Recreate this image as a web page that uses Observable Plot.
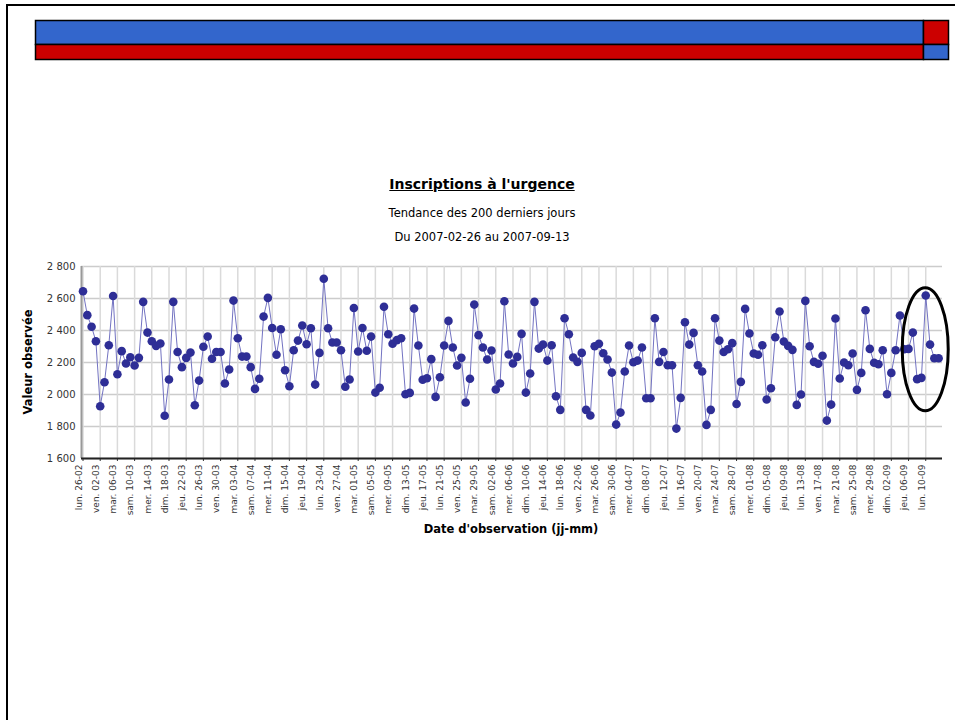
<!DOCTYPE html>
<html><head><meta charset="utf-8">
<script src="https://cdn.jsdelivr.net/npm/d3@7"></script>
<script src="https://cdn.jsdelivr.net/npm/@observablehq/plot@0.6"></script>
<style>
html,body{margin:0;padding:0;background:#fff;}
#page{position:relative;width:955px;height:720px;overflow:hidden;font-family:"DejaVu Sans",sans-serif;color:#000;}
#frame{position:absolute;left:6px;top:4px;width:980px;height:760px;border-top:2px solid #000;border-left:2px solid #000;}
#header{position:absolute;left:34px;top:19px;}
#chart{position:absolute;left:0;top:255px;}
.t{position:absolute;left:0;width:964px;text-align:center;white-space:nowrap;}
#title{top:175px;font-size:14px;font-weight:bold;text-decoration:underline;line-height:18px;}
#sub1{top:206px;font-size:11.5px;line-height:15px;}
#sub2{top:230px;font-size:11.5px;line-height:15px;}
#ylab{position:absolute;left:28px;top:362px;transform:translate(-50%,-50%) rotate(-90deg);font-size:11.5px;font-weight:bold;white-space:nowrap;}
#xlab{position:absolute;left:511px;top:529px;transform:translate(-50%,-50%);font-size:11.5px;font-weight:bold;white-space:nowrap;}
</style></head>
<body><div id="page">
<div id="frame"></div>
<div id="header"></div>
<div class="t" id="title">Inscriptions à l'urgence</div>
<div class="t" id="sub1">Tendance des 200 derniers jours</div>
<div class="t" id="sub2">Du 2007-02-26 au 2007-09-13</div>
<div id="chart"></div>
<div id="ylab">Valeur observée</div>
<div id="xlab">Date d'observation (jj-mm)</div>
</div>
<script>
// Daily values, 2007-02-26 .. 2007-09-13 (200 days)
const values = [
2645,2496,2423,2333,1927,2077,2308,2616,2127,2271,
2194,2233,2181,2229,2579,2387,2333,2304,2319,1867,
2094,2579,2266,2171,2229,2262,1933,2087,2298,2362,
2223,2266,2266,2069,2156,2587,2352,2237,2237,2171,
2035,2098,2487,2604,2416,2248,2408,2152,2052,2277,
2337,2431,2314,2414,2062,2260,2723,2414,2325,2325,
2277,2048,2094,2541,2269,2416,2273,2362,2012,2042,
2548,2377,2317,2340,2352,2002,2010,2537,2306,2092,
2102,2221,1985,2108,2306,2460,2294,2181,2229,1950,
2098,2562,2371,2294,2219,2275,2031,2069,2583,2250,
2194,2235,2379,2012,2131,2579,2287,2312,2212,2308,
1989,1904,2477,2377,2231,2204,2260,1904,1869,2302,
2317,2258,2219,2137,1812,1887,2144,2306,2202,2212,
2294,1977,1977,2477,2204,2266,2183,2183,1787,1979,
2452,2312,2385,2183,2144,1810,1904,2477,2337,2266,
2283,2321,1941,2079,2535,2381,2256,2248,2308,1969,
2039,2358,2519,2331,2304,2279,1935,2000,2585,2302,
2204,2192,2242,1837,1937,2475,2100,2200,2183,2256,
2029,2135,2527,2285,2198,2189,2277,2002,2135,2277,
2494,2283,2285,2387,2096,2104,2619,2312,2227,2227
];
// One label every 4 days
const tickLabels = [
"lun. 26-02","ven. 02-03","mar. 06-03","sam. 10-03","mer. 14-03","dim. 18-03","jeu. 22-03","lun. 26-03",
"ven. 30-03","mar. 03-04","sam. 07-04","mer. 11-04","dim. 15-04","jeu. 19-04","lun. 23-04","ven. 27-04",
"mar. 01-05","sam. 05-05","mer. 09-05","dim. 13-05","jeu. 17-05","lun. 21-05","ven. 25-05","mar. 29-05",
"sam. 02-06","mer. 06-06","dim. 10-06","jeu. 14-06","lun. 18-06","ven. 22-06","mar. 26-06","sam. 30-06",
"mer. 04-07","dim. 08-07","jeu. 12-07","lun. 16-07","ven. 20-07","mar. 24-07","sam. 28-07","mer. 01-08",
"dim. 05-08","jeu. 09-08","lun. 13-08","ven. 17-08","mar. 21-08","sam. 25-08","mer. 29-08","dim. 02-09",
"jeu. 06-09","lun. 10-09"
];
const tickStep = 4;
const yTicks = [1600,1800,2000,2200,2400,2600,2800];
// Highlighted recent period (annotation)
const highlightDay = 196;
const highlightValue = 2280;

// Header status bar shares (percent)
const headerRows = ["haut","bas"];
const headerShare = [97.26, 2.74];

const data = values.map((v, i) => ({day: i, value: v}));
const tickDays = tickLabels.map((_, k) => k * tickStep);
const fmt = d => d3.format(",")(d).replace(",", "\u00a0");

const chart = Plot.plot({
  width: 955, height: 290,
  marginTop: 11, marginLeft: 81, marginRight: 13, marginBottom: 87,
  x: {domain: [-0.35, 199.9]},
  y: {domain: [1600, 2800]},
  style: {fontFamily: "DejaVu Sans", fontSize: "10px", color: "#333", background: "transparent", overflow: "visible"},
  marks: [
    Plot.gridY(yTicks, {stroke: "#cccccc", strokeOpacity: 1, strokeWidth: 1.5}),
    Plot.gridX(tickDays, {stroke: "#dadada", strokeOpacity: 1, strokeWidth: 1.5}),
    Plot.axisY(yTicks, {tickSize: 0, tickPadding: 6, tickFormat: fmt, label: null, fontSize: 10, fill: "#333"}),
    Plot.axisX(tickDays, {tickSize: 3, tickFormat: () => "", label: null, stroke: "#333"}),
    Plot.axisX(tickDays, {tickSize: 0, tickRotate: -90, tickPadding: 6, dx: -4, tickFormat: d => tickLabels[Math.round(d / tickStep)], label: null, fontSize: 9, fill: "#333"}),
    Plot.ruleX([-0.35], {stroke: "#999", strokeWidth: 2}),
    Plot.ruleY([1600], {stroke: "#222", strokeWidth: 2}),
    Plot.line(data, {x: "day", y: "value", stroke: "#7373c2", strokeWidth: 1}),
    Plot.dot(data, {x: "day", y: "value", r: 4.3, fill: "#2e2e96", stroke: "none"})
  ]
});
// annotation ellipse positioned through the chart scales
{
  const cx = chart.scale("x").apply(highlightDay);
  const cy = chart.scale("y").apply(highlightValue);
  d3.select(chart).append("ellipse")
    .attr("cx", cx).attr("cy", cy).attr("rx", 23).attr("ry", 61.5)
    .attr("fill", "none").attr("stroke", "#000").attr("stroke-width", 3);
}
document.getElementById("chart").appendChild(chart);

// Header bar: top row taller than bottom row
const headerData = [];
headerRows.forEach((row, r) => {
  let acc = 0;
  headerShare.forEach((s, k) => {
    headerData.push({row, r, x1: acc, x2: acc + s, color: (r + k) % 2 === 0 ? "#3366cc" : "#cc0000"});
    acc += s;
  });
});
const header = Plot.plot({
  width: 916, height: 42,
  marginLeft: 1.5, marginRight: 1.5, marginTop: 1.5, marginBottom: 1.5,
  x: {domain: [0, 100], axis: null},
  y: {domain: [0, 39], range: [1.5, 40.5], axis: null},
  style: {background: "transparent", overflow: "visible"},
  marks: [
    Plot.rect(headerData, {x1: "x1", x2: "x2", y1: d => d.r === 0 ? 0 : 24, y2: d => d.r === 0 ? 24 : 39, fill: "color", stroke: "#000", strokeWidth: 1.5})
  ]
});
document.getElementById("header").appendChild(header);
</script>
</body></html>
